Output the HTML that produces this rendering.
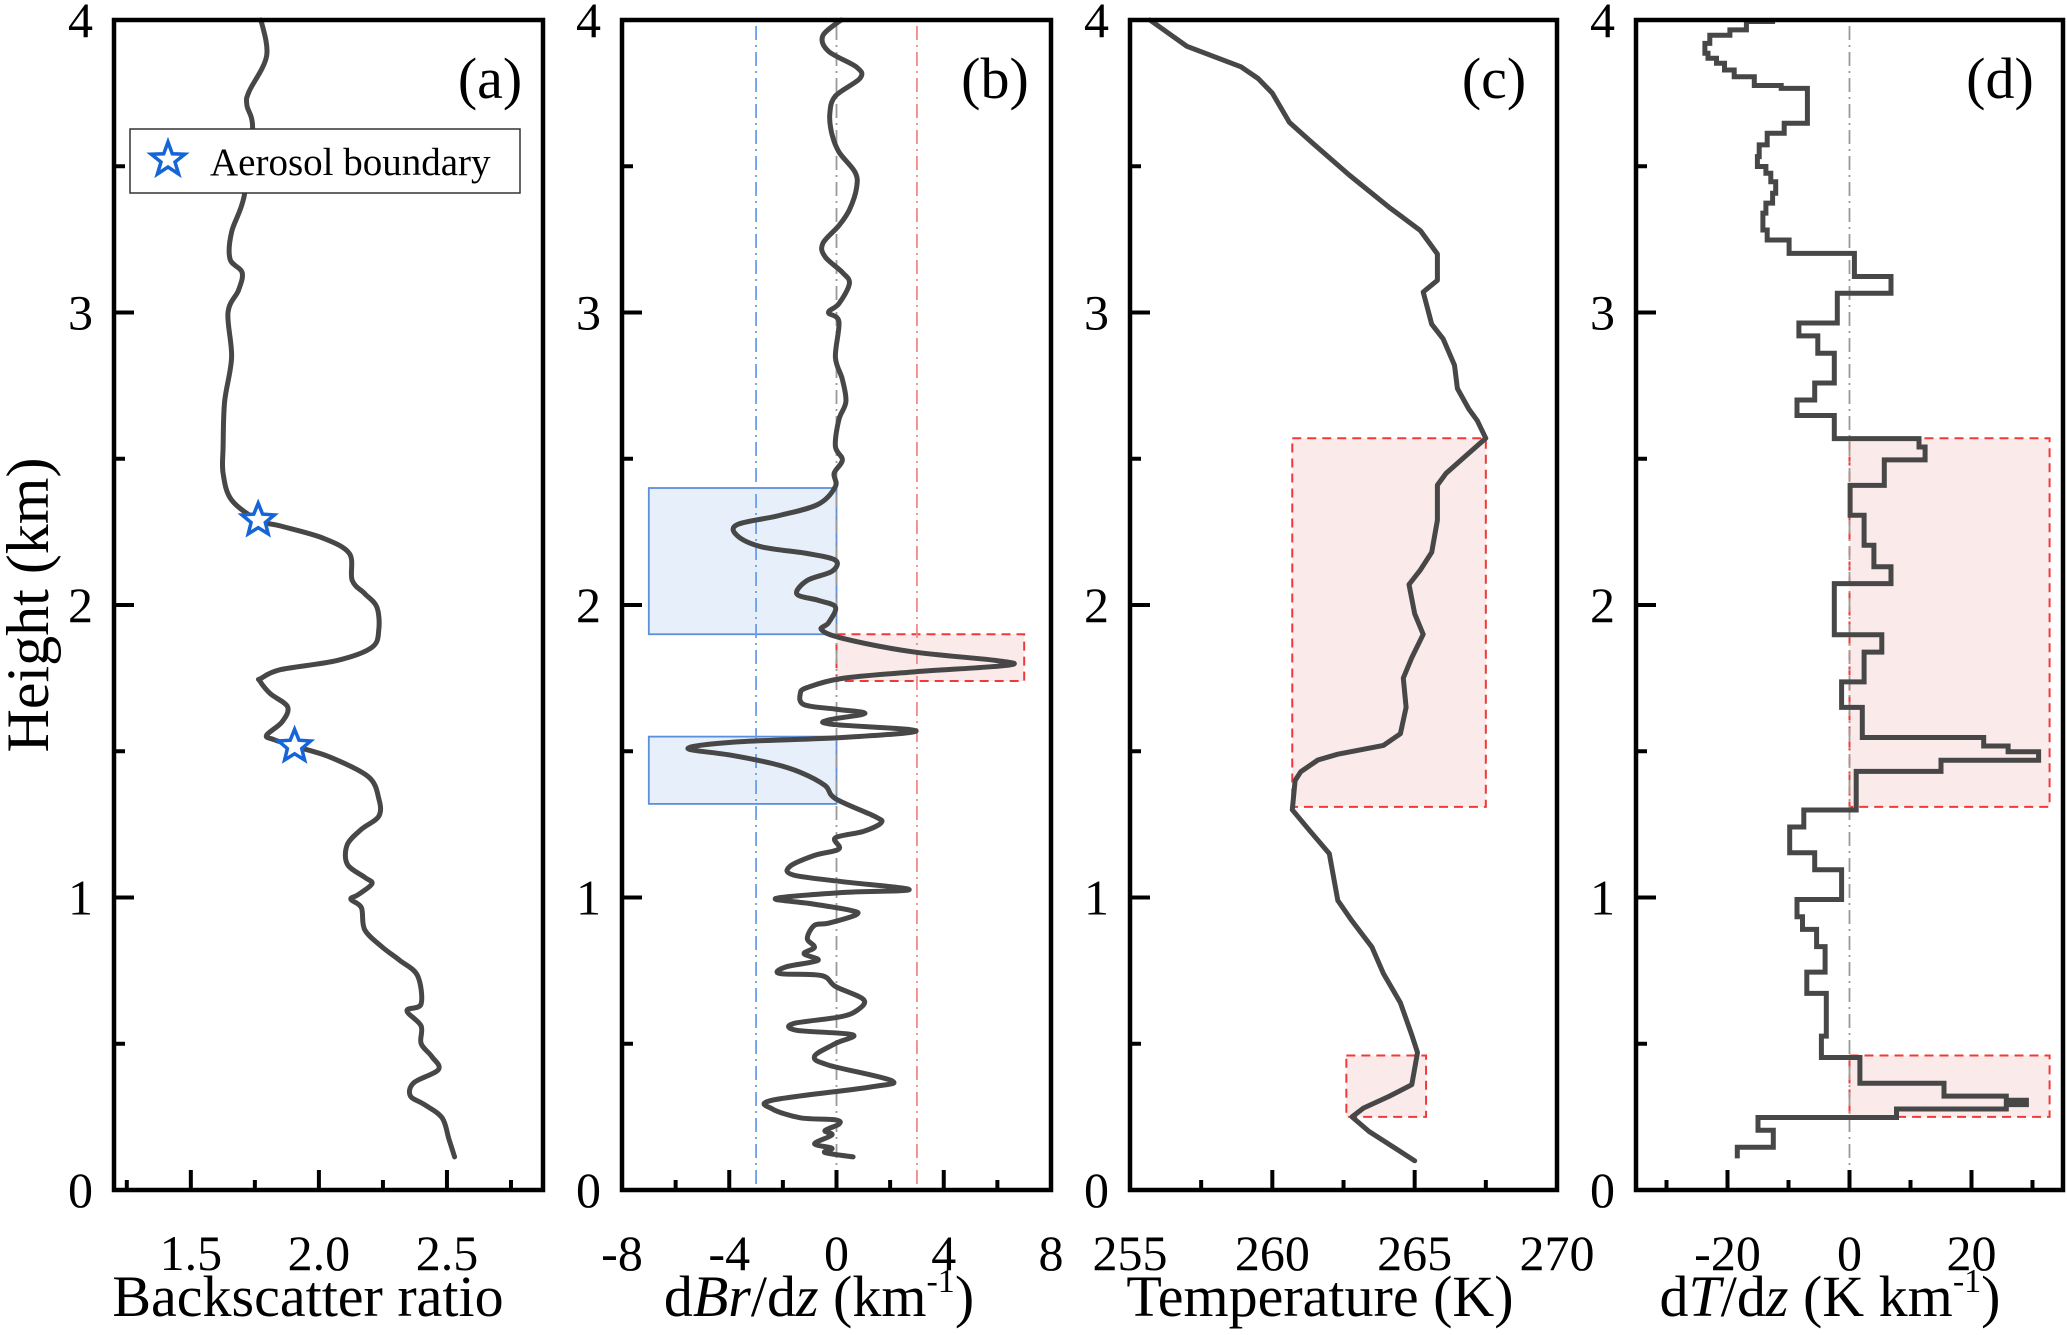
<!DOCTYPE html>
<html><head><meta charset="utf-8"><style>
html,body{margin:0;padding:0;background:#fff;}
svg{display:block;}
text{font-family:"Liberation Serif","Times New Roman",serif;}
</style></head><body>
<svg id="fig" width="2067" height="1335" viewBox="0 0 2067 1335" xmlns="http://www.w3.org/2000/svg" font-family="Liberation Serif, serif"></svg>
<script>
// ---- Panel (a) data: backscatter ratio vs height ----
const aHeights=[4.0,3.877,3.755,3.709,3.626,3.397,3.275,3.183,3.137,3.076,3.0,2.847,2.695,2.542,2.45,2.359,2.29,2.27,2.229,2.176,2.084,2.038,1.993,1.916,1.855,1.81,1.779,1.749,1.741,1.697,1.652,1.6,1.555,1.54,1.517,1.48,1.413,1.338,1.278,1.233,1.181,1.114,1.069,1.047,1.009,0.994,0.965,0.89,0.83,0.785,0.733,0.636,0.613,0.561,0.501,0.457,0.412,0.367,0.322,0.292,0.247,0.173,0.113];
const aValues=[1.774,1.796,1.727,1.719,1.741,1.708,1.659,1.653,1.700,1.686,1.645,1.659,1.632,1.626,1.626,1.659,1.763,1.851,2.015,2.119,2.130,2.180,2.226,2.234,2.207,2.070,1.851,1.774,1.769,1.810,1.878,1.856,1.796,1.823,1.905,2.043,2.193,2.234,2.234,2.166,2.111,2.111,2.179,2.207,2.152,2.125,2.166,2.179,2.248,2.316,2.385,2.399,2.344,2.399,2.399,2.440,2.467,2.371,2.357,2.412,2.481,2.508,2.530];
const starHeights=[2.29,1.517];
const starValues=[1.763,1.905];
// ---- Panel (b) data: dBr/dz ----
const bHeights=[4.0,3.946,3.893,3.839,3.801,3.74,3.679,3.61,3.549,3.48,3.427,3.351,3.297,3.236,3.191,3.137,3.099,3.03,3.0,2.969,2.847,2.771,2.695,2.634,2.542,2.496,2.45,2.405,2.344,2.306,2.275,2.237,2.199,2.176,2.153,2.115,2.084,2.038,2.016,1.993,1.939,1.916,1.886,1.84,1.81,1.794,1.771,1.749,1.718,1.697,1.659,1.644,1.629,1.607,1.592,1.57,1.547,1.532,1.51,1.487,1.458,1.428,1.383,1.338,1.278,1.256,1.226,1.204,1.166,1.144,1.106,1.077,1.054,1.027,1.017,0.997,0.979,0.957,0.942,0.912,0.905,0.86,0.83,0.808,0.785,0.763,0.74,0.733,0.696,0.651,0.613,0.591,0.569,0.546,0.531,0.501,0.457,0.427,0.374,0.352,0.307,0.277,0.247,0.24,0.225,0.203,0.188,0.158,0.143,0.128,0.113];
const bValues=[0.17,-0.51,-0.30,0.75,0.88,-0.04,-0.25,-0.17,0.09,0.69,0.75,0.48,0.09,-0.51,-0.43,0.22,0.48,0.09,-0.30,0.09,-0.04,0.22,0.35,0.09,-0.04,0.22,-0.09,-0.04,-0.69,-2.13,-3.70,-3.70,-2.80,-1.09,-0.04,-0.17,-1.09,-1.48,-0.69,-0.04,-0.30,-0.56,0.22,2.84,5.98,6.37,2.84,0.22,-1.09,-1.35,-1.21,-0.04,1.06,-0.30,-0.17,2.97,0.22,-3.70,-5.54,-3.96,-2.39,-1.35,-0.43,-0.04,1.41,1.67,1.01,-0.04,0.09,-0.82,-1.74,-1.61,0.22,2.71,0.22,-2.26,-0.96,0.48,0.75,-0.30,-0.82,-1.09,-0.82,-1.21,-0.69,-1.87,-2.13,-0.56,-0.04,1.01,0.75,0.09,-1.61,-1.48,0.60,-0.04,-0.82,-0.30,2.05,1.27,-2.39,-2.39,-1.35,-0.04,0.09,-0.43,-0.17,-0.82,-0.17,-0.43,0.62];
// ---- Panel (c) data: temperature ----
const cHeights=[4.0,3.91,3.84,3.80,3.75,3.65,3.58,3.47,3.36,3.28,3.20,3.11,3.07,2.96,2.91,2.82,2.74,2.67,2.63,2.57,2.51,2.45,2.41,2.29,2.18,2.12,2.07,1.97,1.90,1.82,1.75,1.65,1.56,1.52,1.49,1.47,1.43,1.40,1.30,1.23,1.15,0.99,0.92,0.83,0.74,0.64,0.53,0.47,0.36,0.32,0.28,0.25,0.20,0.15,0.10];
const cValues=[255.7,257.0,258.9,259.5,260.0,260.6,261.4,262.7,264.1,265.2,265.8,265.8,265.3,265.6,266.0,266.4,266.5,266.9,267.2,267.5,266.8,266.1,265.8,265.8,265.6,265.2,264.8,265.0,265.3,264.9,264.6,264.7,264.5,263.9,262.3,261.6,261.0,260.8,260.7,261.3,262.0,262.3,262.8,263.5,263.9,264.5,264.9,265.1,264.9,264.1,263.2,262.8,263.4,264.2,265.0];
// ---- Panel (d) data: dT/dz step profile (interval edges and values) ----
const dEdges=[3.995,3.966,3.948,3.92,3.886,3.869,3.852,3.829,3.806,3.776,3.766,3.647,3.613,3.573,3.533,3.499,3.476,3.447,3.408,3.374,3.34,3.282,3.248,3.202,3.123,3.066,2.964,2.920,2.861,2.759,2.701,2.648,2.569,2.540,2.496,2.409,2.307,2.204,2.131,2.073,1.898,1.839,1.737,1.650,1.547,1.518,1.498,1.469,1.431,1.299,1.241,1.153,1.095,0.993,0.934,0.891,0.832,0.745,0.672,0.526,0.453,0.365,0.321,0.307,0.292,0.277,0.248,0.204,0.146,0.108];
const dValues=[-16.9,-19.6,-22.9,-23.7,-23.2,-21.8,-20.5,-18.9,-15.6,-11.2,-6.9,-10.7,-13.5,-14.8,-15.1,-13.7,-12.9,-12.1,-12.6,-13.7,-14.2,-13.5,-9.9,0.8,6.8,-2.0,-8.3,-5.2,-2.5,-5.7,-8.6,-2.5,11.4,12.4,5.7,0.1,2.4,4.0,6.8,-2.5,5.3,2.4,-1.3,2.1,22,26,31,15,1.1,-7.5,-9.8,-5.7,-1.3,-8.6,-7.7,-5.4,-4.0,-7.0,-3.8,-4.6,1.7,15.5,25.7,29.0,25.7,7.7,-15.0,-12.5,-18.4];
const dStartValue=-12.2;

const svg=document.getElementById('fig');
const NS='http://www.w3.org/2000/svg';
function mk(tag,attrs,parent){const e=document.createElementNS(NS,tag);for(const k in attrs)e.setAttribute(k,attrs[k]);(parent||svg).appendChild(e);return e;}
const Y0=1190,Y1=20;
function yS(h){return Y0+(Y1-Y0)*h/4;}
function xScale(p){return v=>p.x0+(v-p.min)/(p.max-p.min)*(p.x1-p.x0);}
function smooth(pts){let d='M'+pts[0][0].toFixed(1)+','+pts[0][1].toFixed(1);for(let i=0;i<pts.length-1;i++){const p0=pts[i-1]||pts[i],p1=pts[i],p2=pts[i+1],p3=pts[i+2]||p2;const c1=[p1[0]+(p2[0]-p0[0])/6,p1[1]+(p2[1]-p0[1])/6],c2=[p2[0]-(p3[0]-p1[0])/6,p2[1]-(p3[1]-p1[1])/6];d+='C'+c1.map(n=>n.toFixed(1))+' '+c2.map(n=>n.toFixed(1))+' '+p2.map(n=>n.toFixed(1));}return d;}
const FF='Liberation Serif, Times New Roman, serif';

const panels=[
 {id:'a',x0:114,x1:543,min:1.2,max:2.875,major:[1.5,2.0,2.5],labels:['1.5','2.0','2.5'],minor:[1.25,1.75,2.25,2.75],lab:[490,'(a)']},
 {id:'b',x0:622,x1:1051,min:-8,max:8,major:[-8,-4,0,4,8],labels:['-8','-4','0','4','8'],minor:[-6,-2,2,6],lab:[995,'(b)']},
 {id:'c',x0:1130,x1:1557,min:255,max:270,major:[255,260,265,270],labels:['255','260','265','270'],minor:[257.5,262.5,267.5],lab:[1494,'(c)']},
 {id:'d',x0:1636,x1:2063,min:-35,max:35,major:[-20,0,20],labels:['-20','0','20'],minor:[-30,-10,10,30],lab:[2000,'(d)']}
];
panels.forEach(p=>{p.xs=xScale(p);});
const [pa,pb,pc,pd]=panels;

function box(p,v0,v1,h0,h1,kind,name){const x=p.xs(Math.min(v0,v1)),w=Math.abs(p.xs(v1)-p.xs(v0)),y=yS(Math.max(h0,h1)),hh=Math.abs(yS(h0)-yS(h1));
 const r=mk('rect',{x:x,y:y,width:w,height:hh,fill:kind==='blue'?'#e7effa':'#fbeaea',stroke:kind==='blue'?'#5a8fdc':'#f03a3a','stroke-width':kind==='blue'?1.8:2,'stroke-dasharray':kind==='blue'?'none':'9,6'});
 
 }
box(pb,-7,0,1.9,2.4,'blue','b-negative-region-upper');
box(pb,-7,0,1.32,1.55,'blue','b-negative-region-lower');
box(pb,0,7,1.74,1.9,'red','b-positive-region');
box(pc,260.7,267.5,1.31,2.57,'red','c-inversion-region-upper');
box(pc,262.6,265.4,0.25,0.46,'red','c-inversion-region-lower');
box(pd,0,32.8,1.31,2.57,'red','d-inversion-region-upper');
box(pd,0,32.8,0.25,0.46,'red','d-inversion-region-lower');

function vline(p,v,color,name){const l=mk('line',{x1:p.xs(v),x2:p.xs(v),y1:Y1+6,y2:Y0,stroke:color,'stroke-width':1.8,'stroke-dasharray':'14,5,2,5'});
 
 }
vline(pb,-3,'#6a9ee8','b-threshold-negative');
vline(pb,0,'#9a9a9a','b-zero-line');
vline(pb,3,'#f08a8a','b-threshold-positive');
vline(pd,0,'#9a9a9a','d-zero-line');

function curve(p,hs,vs,name,sm){const pts=hs.map((h,i)=>[p.xs(vs[i]),yS(h)]);
 const d=sm?smooth(pts):'M'+pts.map(q=>q[0].toFixed(1)+','+q[1].toFixed(1)).join('L');
 const e=mk('path',{d:d,fill:'none',stroke:'#474747','stroke-width':5,'stroke-linejoin':'round','stroke-linecap':'round'});
 
 }
curve(pa,aHeights,aValues,'backscatter-ratio-curve',true);
curve(pb,bHeights,bValues,'dbr-dz-curve',true);
curve(pc,cHeights,cValues,'temperature-curve',false);
(function(){let d='M'+pd.xs(dStartValue).toFixed(1)+','+yS(dEdges[0]).toFixed(1);
 for(let i=0;i<dValues.length;i++){const x=pd.xs(dValues[i]).toFixed(1);d+='L'+x+','+yS(dEdges[i]).toFixed(1)+'L'+x+','+yS(dEdges[i+1]).toFixed(1);}
 const e=mk('path',{d:d,fill:'none',stroke:'#474747','stroke-width':5,'stroke-linejoin':'miter'});
 
 })();

function starPath(cx,cy,R,r){let s='';for(let i=0;i<10;i++){const a=-Math.PI/2+i*Math.PI/5,rad=i%2?r:R;s+=(i?'L':'M')+(cx+rad*Math.cos(a)).toFixed(1)+','+(cy+rad*Math.sin(a)).toFixed(1);}return s+'Z';}
starHeights.forEach((h,i)=>{const s=mk('path',{d:starPath(pa.xs(starValues[i]),yS(h),17,7.5),fill:'#fff',stroke:'#1565d8','stroke-width':3.5,'stroke-linejoin':'miter'});
 
 });

panels.forEach(p=>{
 const g=mk('g',{});
 
 
 mk('rect',{x:p.x0,y:Y1,width:p.x1-p.x0,height:Y0-Y1,fill:'none',stroke:'#000','stroke-width':4.5},g);
 for(let h=0;h<=4;h++){mk('line',{x1:p.x0,x2:p.x0+20,y1:yS(h),y2:yS(h),stroke:'#000','stroke-width':4},g);
  const t=mk('text',{x:p.x0-21,y:yS(h)+17,'text-anchor':'end','font-size':50,'font-family':FF,fill:'#000'},g);t.textContent=String(h);}
 for(let h=0.5;h<4;h+=1)mk('line',{x1:p.x0,x2:p.x0+11,y1:yS(h),y2:yS(h),stroke:'#000','stroke-width':4},g);
 p.major.forEach((v,i)=>{mk('line',{x1:p.xs(v),x2:p.xs(v),y1:Y0,y2:Y0-20,stroke:'#000','stroke-width':4},g);
  const t=mk('text',{x:p.xs(v),y:1270,'text-anchor':'middle','font-size':50,'font-family':FF,fill:'#000'},g);t.textContent=p.labels[i];});
 p.minor.forEach(v=>mk('line',{x1:p.xs(v),x2:p.xs(v),y1:Y0,y2:Y0-10,stroke:'#000','stroke-width':4},g));
 const pl=mk('text',{x:p.lab[0],y:98,'text-anchor':'middle','font-size':58,'font-family':FF,fill:'#000'},g);pl.textContent=p.lab[1];
 
 
});

svg.insertAdjacentHTML('beforeend',
 '<text font-family="Liberation Serif, serif" x="0" y="0" transform="translate(48,605) rotate(-90)" text-anchor="middle" font-size="60" fill="#000">Height (km)</text>'+
 '<text font-family="Liberation Serif, serif" x="308" y="1316" text-anchor="middle" font-size="58" fill="#000">Backscatter ratio</text>'+
 '<text font-family="Liberation Serif, serif" x="819" y="1316" text-anchor="middle" font-size="58" fill="#000">d<tspan font-style="italic">Br</tspan>/d<tspan font-style="italic">z</tspan> (km<tspan font-size="34" dy="-24">-1</tspan><tspan dy="24">)</tspan></text>'+
 '<text font-family="Liberation Serif, serif" x="1320" y="1316" text-anchor="middle" font-size="58" fill="#000">Temperature (K)</text>'+
 '<text font-family="Liberation Serif, serif" x="1830" y="1316" text-anchor="middle" font-size="58" fill="#000">d<tspan font-style="italic">T</tspan>/d<tspan font-style="italic">z</tspan> (K km<tspan font-size="34" dy="-24">-1</tspan><tspan dy="24">)</tspan></text>'+
 '<g><rect x="130" y="129" width="390" height="64" fill="#fff" stroke="#333" stroke-width="1.5"/>'+
 '<path d="M168,142 L172.3,153.8 L184.8,154.2 L175,162 L178.6,174 L168,167 L157.4,174 L161,162 L151.2,154.2 L163.7,153.8 Z" fill="#fff" stroke="#1565d8" stroke-width="3.5"/>'+
 '<text font-family="Liberation Serif, serif" x="210" y="175" font-size="39" fill="#000">Aerosol boundary</text></g>');
</script>
</body></html>
